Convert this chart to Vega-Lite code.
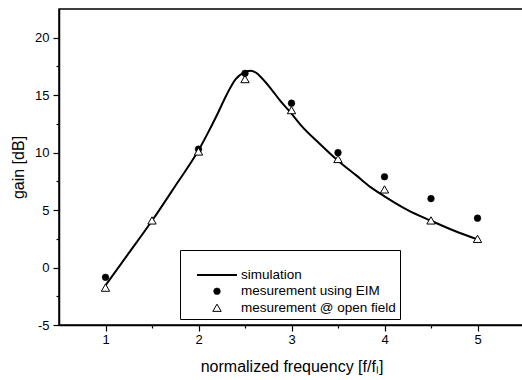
{
  "$schema": "https://vega.github.io/schema/vega-lite/v6.json",
  "autosize": {"type": "none"},
  "padding": {"left": 59, "top": 9, "right": 0, "bottom": 55},
  "width": 465,
  "height": 316,
  "background": "white",
  "config": {
    "font": "Liberation Sans",
    "view": {"stroke": "black", "strokeWidth": 1.5},
    "axis": {
      "grid": false,
      "domainColor": "black",
      "domainWidth": 1.5,
      "tickColor": "black",
      "tickWidth": 1.2,
      "labelColor": "black",
      "labelFont": "Liberation Sans",
      "labelFontSize": 13,
      "titleColor": "black",
      "titleFont": "Liberation Sans",
      "titleFontSize": 16,
      "titleFontWeight": "normal"
    },
    "legend": {
      "title": null,
      "orient": "none",
      "legendX": 121,
      "legendY": 241,
      "strokeColor": "black",
      "fillColor": "white",
      "padding": 4,
      "symbolOffset": 12,
      "labelOffset": 3,
      "rowPadding": 1.5,
      "labelFont": "Liberation Sans",
      "labelFontSize": 13.5,
      "labelColor": "black",
      "labelLimit": 300
    }
  },
  "datasets": {
    "simulation": [
      {"f": 1.0, "gain": -1.55},
      {"f": 1.25, "gain": 1.25},
      {"f": 1.5, "gain": 4.07},
      {"f": 1.75, "gain": 7.1},
      {"f": 2.0, "gain": 10.2},
      {"f": 2.1, "gain": 11.7},
      {"f": 2.2, "gain": 13.3},
      {"f": 2.3, "gain": 15.0},
      {"f": 2.4, "gain": 16.4},
      {"f": 2.48, "gain": 16.95},
      {"f": 2.56, "gain": 17.13},
      {"f": 2.62, "gain": 16.95},
      {"f": 2.68, "gain": 16.5},
      {"f": 2.79, "gain": 15.45},
      {"f": 2.88, "gain": 14.5},
      {"f": 3.0, "gain": 13.4},
      {"f": 3.1, "gain": 12.4},
      {"f": 3.3, "gain": 10.8},
      {"f": 3.5, "gain": 9.3},
      {"f": 3.7, "gain": 8.0},
      {"f": 3.85, "gain": 7.0},
      {"f": 4.0, "gain": 6.2},
      {"f": 4.25, "gain": 5.0},
      {"f": 4.5, "gain": 4.07},
      {"f": 4.75, "gain": 3.2},
      {"f": 5.0, "gain": 2.45}
    ],
    "measurement": [
      {"f": 1.0, "gain": -0.85, "series": "mesurement using EIM"},
      {"f": 2.0, "gain": 10.3, "series": "mesurement using EIM"},
      {"f": 2.5, "gain": 16.9, "series": "mesurement using EIM"},
      {"f": 3.0, "gain": 14.3, "series": "mesurement using EIM"},
      {"f": 3.5, "gain": 10.0, "series": "mesurement using EIM"},
      {"f": 4.0, "gain": 7.9, "series": "mesurement using EIM"},
      {"f": 4.5, "gain": 6.0, "series": "mesurement using EIM"},
      {"f": 5.0, "gain": 4.3, "series": "mesurement using EIM"},
      {"f": 1.0, "gain": -1.75, "series": "mesurement @ open field"},
      {"f": 1.5, "gain": 4.1, "series": "mesurement @ open field"},
      {"f": 2.0, "gain": 10.1, "series": "mesurement @ open field"},
      {"f": 2.5, "gain": 16.4, "series": "mesurement @ open field"},
      {"f": 3.0, "gain": 13.7, "series": "mesurement @ open field"},
      {"f": 3.5, "gain": 9.45, "series": "mesurement @ open field"},
      {"f": 4.0, "gain": 6.8, "series": "mesurement @ open field"},
      {"f": 4.5, "gain": 4.1, "series": "mesurement @ open field"},
      {"f": 5.0, "gain": 2.5, "series": "mesurement @ open field"}
    ]
  },
  "encoding": {
    "x": {
      "field": "f",
      "type": "quantitative",
      "scale": {"domain": [0.5, 5.5], "nice": false, "zero": false},
      "axis": {
        "title": "normalized frequency [f/fₗ]",
        "values": [1, 1.5, 2, 2.5, 3, 3.5, 4, 4.5, 5],
        "labelExpr": "datum.value % 1 === 0 ? '' + datum.value : ''",
        "tickSize": {"condition": {"test": "datum.value % 1 === 0", "value": 6}, "value": 3},
        "labelPadding": 2,
        "titlePadding": 12
      }
    },
    "y": {
      "field": "gain",
      "type": "quantitative",
      "scale": {"domain": [-5, 22.5], "nice": false, "zero": false},
      "axis": {
        "title": "gain [dB]",
        "values": [-5, -2.5, 0, 2.5, 5, 7.5, 10, 12.5, 15, 17.5, 20],
        "labelExpr": "datum.value % 5 === 0 ? '' + datum.value : ''",
        "tickSize": {"condition": {"test": "datum.value % 5 === 0", "value": 6}, "value": 3},
        "labelPadding": 4,
        "titlePadding": 8
      }
    }
  },
  "layer": [
    {
      "data": {"name": "simulation"},
      "mark": {"type": "line", "color": "black", "strokeWidth": 2, "interpolate": "monotone"},
      "encoding": {}
    },
    {
      "data": {"name": "measurement"},
      "mark": {"type": "point", "opacity": 1},
      "encoding": {
        "shape": {
          "field": "series",
          "type": "nominal",
          "scale": {
            "type": "ordinal",
            "domain": ["simulation", "mesurement using EIM", "mesurement @ open field"],
            "range": ["stroke", "circle", "triangle-up"]
          }
        },
        "fill": {
          "field": "series",
          "type": "nominal",
          "scale": {
            "type": "ordinal",
            "domain": ["simulation", "mesurement using EIM", "mesurement @ open field"],
            "range": ["black", "black", "white"]
          }
        },
        "stroke": {
          "field": "series",
          "type": "nominal",
          "scale": {
            "type": "ordinal",
            "domain": ["simulation", "mesurement using EIM", "mesurement @ open field"],
            "range": ["black", "black", "black"]
          }
        },
        "size": {
          "field": "series",
          "type": "nominal",
          "scale": {
            "type": "ordinal",
            "domain": ["simulation", "mesurement using EIM", "mesurement @ open field"],
            "range": [1600, 45, 70]
          }
        },
        "strokeWidth": {
          "field": "series",
          "type": "nominal",
          "scale": {
            "type": "ordinal",
            "domain": ["simulation", "mesurement using EIM", "mesurement @ open field"],
            "range": [2, 0.5, 1]
          }
        }
      }
    }
  ]
}
